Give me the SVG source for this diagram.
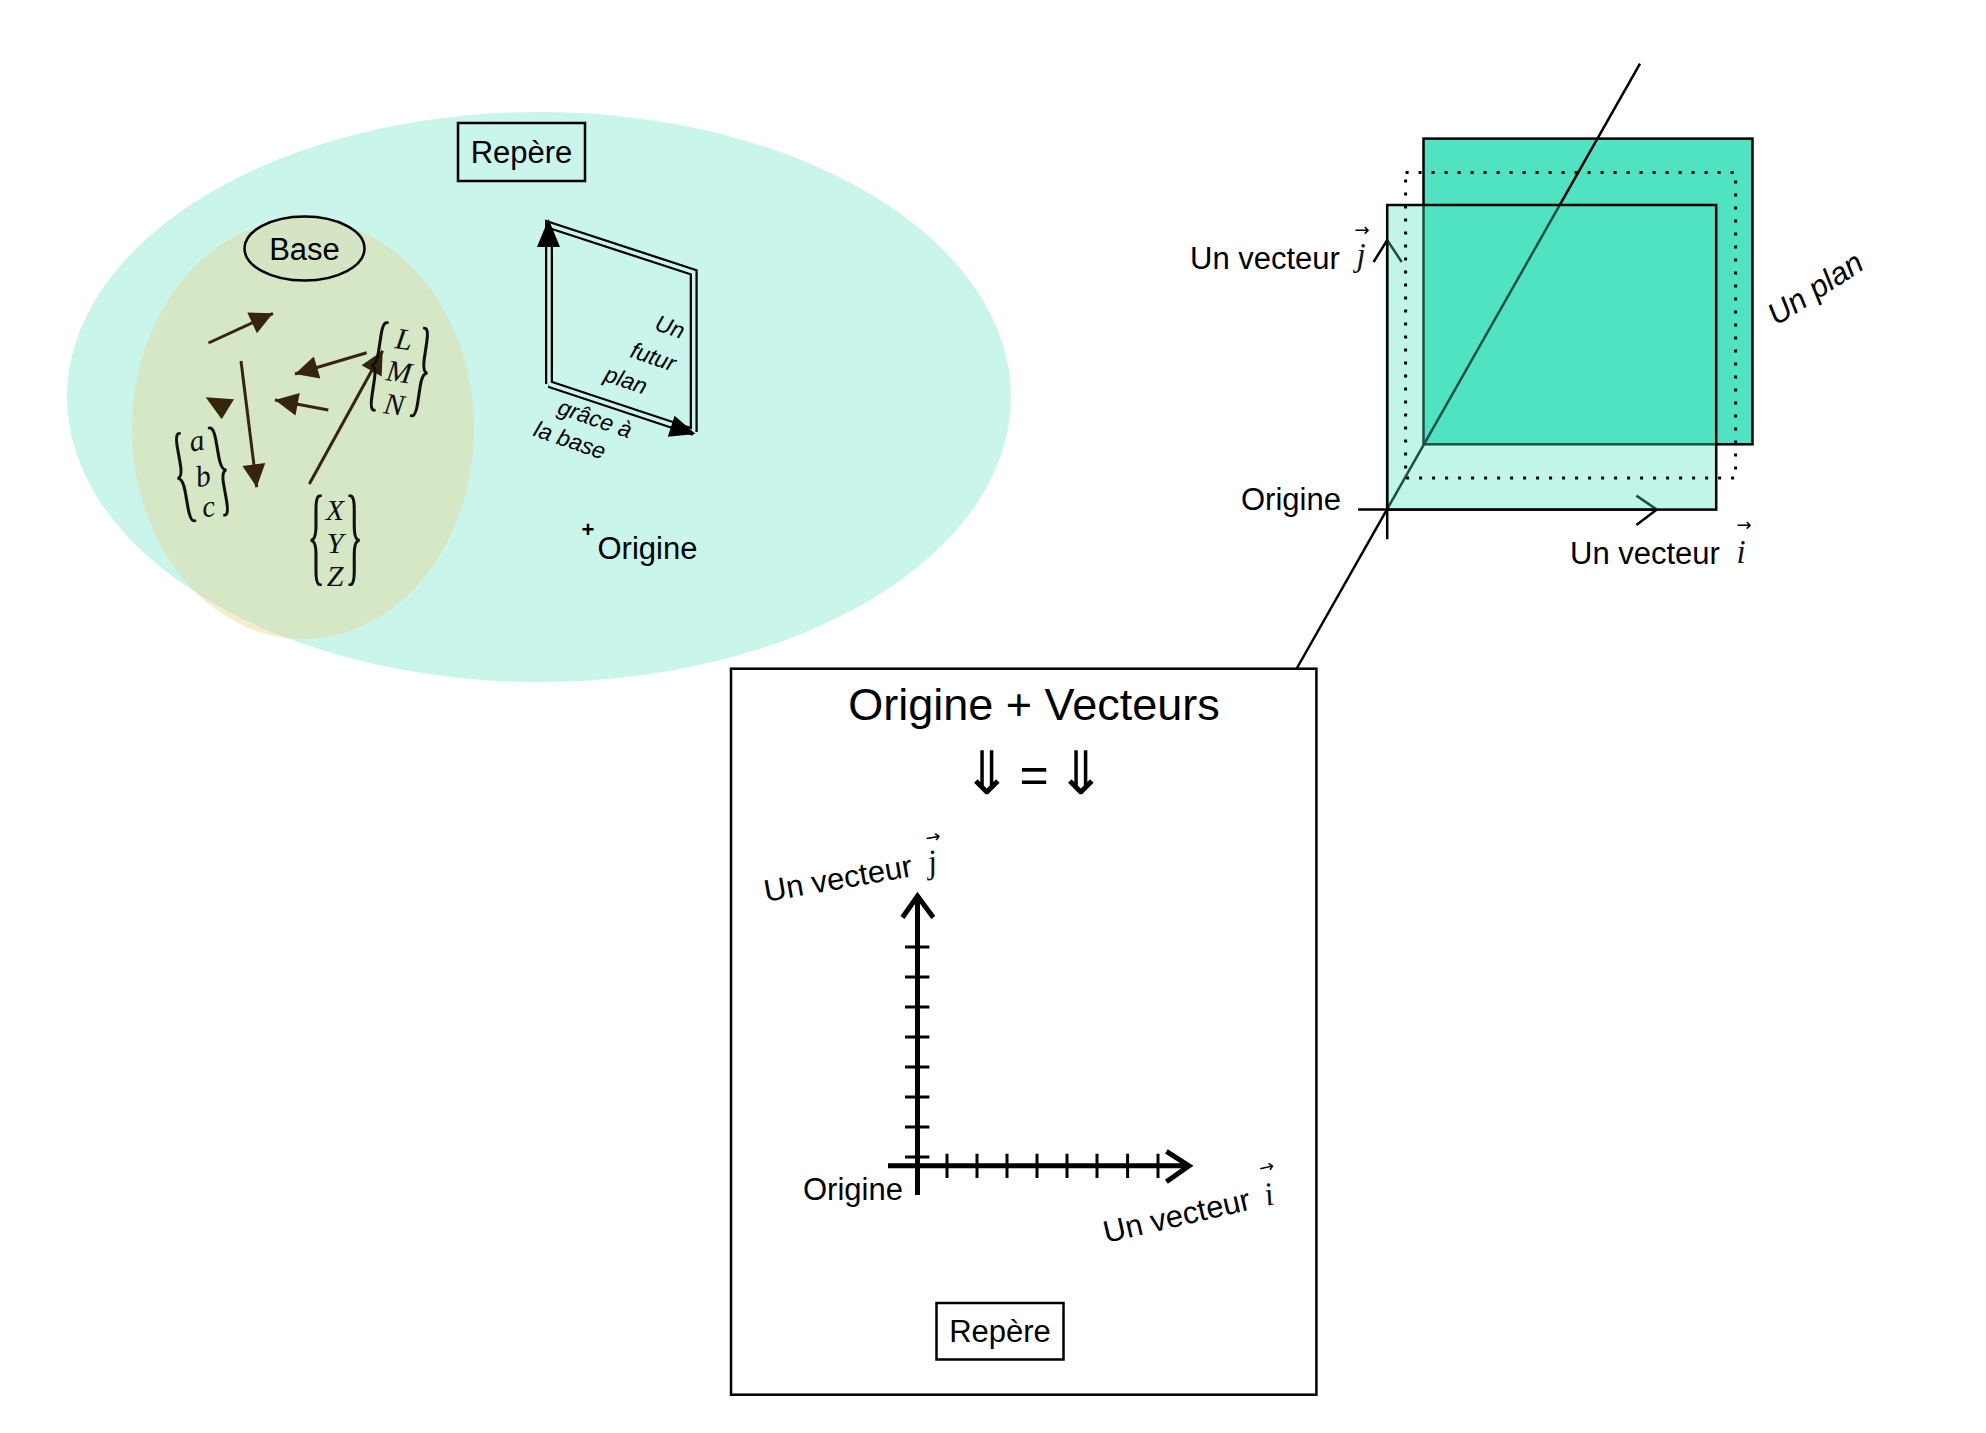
<svg xmlns="http://www.w3.org/2000/svg" width="1986" height="1433" viewBox="0 0 1986 1433">
<style>
.lbl{font-family:"Liberation Sans",Arial,sans-serif;font-size:31px;fill:#000}
.it{font-style:italic}
.m{font-family:"Liberation Serif","DejaVu Serif",serif;font-style:italic;font-size:30px;fill:#111}
.br{font-family:"Liberation Serif","DejaVu Serif",serif;font-size:38px;fill:#111}
.vec{font-family:"DejaVu Sans",sans-serif;font-size:18px;font-style:normal;fill:#000}
.bline{stroke:#35250d;stroke-width:3;fill:none}
.tick{stroke:#000;stroke-width:3}
</style>
<defs>
<marker id="ah" viewBox="0 0 10 10" refX="10" refY="5" markerWidth="25" markerHeight="23" markerUnits="userSpaceOnUse" orient="auto">
<path d="M0,0 L10,5 L0,10 z" fill="#35250d"/>
</marker>
</defs>

<g id="repere-zone">
<ellipse cx="539" cy="397" rx="472" ry="285" fill="#caf5eb"/>
</g>
<g id="base-zone">
<ellipse cx="303" cy="429" rx="171" ry="210" fill="#e6d494" fill-opacity="0.42"/>
</g>

<g id="repere-top">
<rect x="458" y="123" width="127" height="58" fill="none" stroke="#000" stroke-width="2.5"/>
<text class="lbl" x="521.5" y="163" text-anchor="middle">Repère</text>
</g>

<g id="base-label">
<ellipse cx="304.5" cy="248.5" rx="60" ry="32" fill="#d5e5c3" stroke="#000" stroke-width="2.5"/>
<text class="lbl" x="304.5" y="260" text-anchor="middle">Base</text>
</g>

<g id="base-vectors">
<line class="bline" x1="208.5" y1="343" x2="273" y2="313.3" marker-end="url(#ah)"/>
<line class="bline" x1="366.7" y1="352.7" x2="295" y2="374" marker-end="url(#ah)"/>
<line class="bline" x1="328.3" y1="410" x2="275" y2="400" marker-end="url(#ah)"/>
<line class="bline" x1="241" y1="361" x2="256.7" y2="487.3" marker-end="url(#ah)"/>
<line class="bline" x1="309.3" y1="484" x2="382.7" y2="350.7" marker-end="url(#ah)"/>
<polygon points="205.7,397.3 234,399.3 221.7,419.3" fill="#35250d"/>
</g>

<g id="vec-abc" transform="translate(203,477) rotate(-10)">
<text class="m" x="0" y="-27" text-anchor="middle">a</text>
<text class="m" x="0" y="9" text-anchor="middle">b</text>
<text class="m" x="0" y="40" text-anchor="middle">c</text>
<text class="br" transform="translate(-20,28) scale(1,2.9)" text-anchor="middle">{</text>
<text class="br" transform="translate(19,28) scale(1,2.9)" text-anchor="middle">}</text>
</g>

<g id="vec-lmn" transform="translate(399,372) rotate(8.5)">
<text class="m" x="0" y="-23" text-anchor="middle">L</text>
<text class="m" x="0" y="10" text-anchor="middle">M</text>
<text class="m" x="0" y="43" text-anchor="middle">N</text>
<text class="br" transform="translate(-23,28) scale(1,2.9)" text-anchor="middle">{</text>
<text class="br" transform="translate(23,28) scale(1,2.9)" text-anchor="middle">}</text>
</g>

<g id="vec-xyz" transform="translate(335,543)">
<text class="m" x="0" y="-23" text-anchor="middle">X</text>
<text class="m" x="0" y="10" text-anchor="middle">Y</text>
<text class="m" x="0" y="43" text-anchor="middle">Z</text>
<text class="br" transform="translate(-19,28) scale(1,2.9)" text-anchor="middle">{</text>
<text class="br" transform="translate(19,28) scale(1,2.9)" text-anchor="middle">}</text>
</g>

<g id="futur-plan">
<path d="M549,384 L549,225 L693.7,272.3 L693.7,432 M549,384 L693.7,432" fill="none" stroke="#000" stroke-width="8" stroke-linejoin="miter"/>
<path d="M549,384 L549,225 L693.7,272.3 L693.7,432 M549,384 L693.7,432" fill="none" stroke="#caf5eb" stroke-width="3.5" stroke-linejoin="miter"/>
<polygon points="548.5,219 537,247 560,247" fill="#000"/>
<polygon points="695.5,434 667.8,436.8 674.6,415.8" fill="#000"/>
<g class="lbl it" style="font-size:23px" text-anchor="middle">
<text transform="translate(670,326.7) rotate(19)" y="8">Un</text>
<text transform="translate(653.3,356.7) rotate(19)" y="8">futur</text>
<text transform="translate(626,380) rotate(19)" y="8">plan</text>
<text transform="translate(595,418.3) rotate(19)" y="8">grâce à</text>
<text transform="translate(570,440) rotate(19)" y="8">la base</text>
</g>
</g>

<g id="origine-point">
<text class="lbl" x="588" y="537" text-anchor="middle" style="font-size:22px;font-weight:bold">+</text>
<text class="lbl" x="597.5" y="559">Origine</text>
</g>

<g id="plan-3d">
<rect x="1423.5" y="138.6" width="329" height="305.7" fill="#50e3c2" stroke="#000" stroke-width="2.5"/>
<g id="connectors">
<line x1="1640" y1="63.6" x2="1297" y2="668" stroke="#000" stroke-width="2.5"/>
</g>
<g id="axes-3d" fill="none" stroke="#000" stroke-width="2.5">
<path d="M1358,509.6 L1656.8,509.6 M1636.4,495.6 L1656.8,509.6 L1636.4,525"/>
<path d="M1387.2,539.3 L1387.2,240 M1373.6,262 L1387.2,240 L1401.7,262"/>
</g>
<rect x="1387.2" y="205" width="329" height="304.6" fill="#50e3c2" fill-opacity="0.35" stroke="#000" stroke-width="2.5"/>
<rect x="1405.6" y="172.5" width="330" height="305.5" fill="none" stroke="#000" stroke-width="3" stroke-dasharray="3 10"/>
<text class="lbl" x="1190" y="269">Un vecteur</text>
<text class="m" x="1361" y="266" text-anchor="middle" style="font-size:33px">j<tspan class="vec" x="1362" y="236">→</tspan></text>
<text class="lbl" x="1241" y="510">Origine</text>
<text class="lbl" x="1570" y="564">Un vecteur</text>
<text class="m" x="1741" y="563" text-anchor="middle" style="font-size:33px">i<tspan class="vec" x="1744" y="531">→</tspan></text>
<text class="lbl it" transform="translate(1815,288) rotate(-33)" x="0" y="11" text-anchor="middle">Un plan</text>
</g>

<g id="origine-vecteurs">
<rect x="731" y="668.7" width="585.4" height="726" fill="#fff" stroke="#000" stroke-width="2.5"/>
<text class="lbl" x="1034" y="720" text-anchor="middle" style="font-size:45px">Origine + Vecteurs</text>
<text x="987" y="794" text-anchor="middle" style="font-family:'DejaVu Sans',sans-serif;font-size:60px">⇓</text>
<text class="lbl" x="1034" y="792" text-anchor="middle" style="font-size:50px">=</text>
<text x="1081" y="794" text-anchor="middle" style="font-family:'DejaVu Sans',sans-serif;font-size:60px">⇓</text>
<g id="axes-2d" fill="none" stroke="#000" stroke-width="5">
<path d="M917.5,1195 L917.5,897 M902.5,917.5 L917.5,896 L933.3,917.5"/>
<path d="M888,1165.8 L1189,1165.8 M1166.4,1151.3 L1189,1165.8 L1166.4,1181.8"/>
</g>
<g id="ticks" class="tick">
<path d="M905,947 H929.4 M905,977 H929.4 M905,1007 H929.4 M905,1037 H929.4 M905,1067 H929.4 M905,1097 H929.4 M905,1127 H929.4 M905,1157 H929.4"/>
<path d="M947,1153.7 V1178 M977,1153.7 V1178 M1007,1153.7 V1178 M1037,1153.7 V1178 M1067,1153.7 V1178 M1097,1153.7 V1178 M1127.6,1153.7 V1178 M1158,1153.7 V1178"/>
</g>
<text class="lbl" transform="translate(766,902) rotate(-10)">Un vecteur<tspan class="m" x="166" y="0" style="font-size:33px">j</tspan><tspan class="vec" x="168" y="-29">→</tspan></text>
<text class="lbl" x="803" y="1200">Origine</text>
<text class="lbl" transform="translate(1106,1243) rotate(-13)">Un vecteur<tspan class="m" x="165" y="0" style="font-size:33px">i</tspan><tspan class="vec" x="166" y="-32">→</tspan></text>
<g id="repere-bottom">
<rect x="936.5" y="1303" width="127" height="56.5" fill="none" stroke="#000" stroke-width="2.5"/>
<text class="lbl" x="1000" y="1342" text-anchor="middle">Repère</text>
</g>
</g>
</svg>
